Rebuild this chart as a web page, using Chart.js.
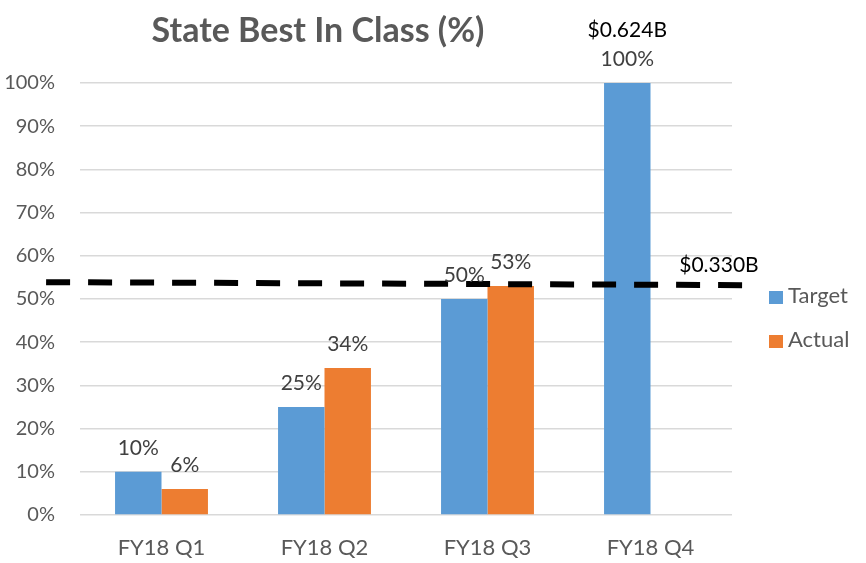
<!DOCTYPE html>
<html>
<head>
<meta charset="utf-8">
<script src="https://cdn.jsdelivr.net/npm/chart.js@4.4.1/dist/chart.umd.min.js"></script>
<style>
    html, body { margin: 0; padding: 0; background: #fff; }
    #wrap { position: relative; width: 866px; height: 563px; }
    #title {
        position: absolute; left: 118px; top: 8px; width: 400px; text-align: center;
        font: bold 34px Lato, "Open Sans", sans-serif; color: #595959;
    }
    #legend {
        position: absolute; left: 769px; top: 280px;
        font: 22px Lato, "Open Sans", sans-serif; color: #595959;
    }
    #legend div { height: 44px; line-height: 30px; white-space: nowrap; }
    #legend span {
        display: inline-block; width: 14px; height: 13px; margin-right: 5px; vertical-align: -1px;
    }
</style>
</head>
<body>
<div id="wrap">
    <canvas id="chart" width="866" height="563"></canvas>
    <div id="title">State Best In Class (%)</div>
    <div id="legend"></div>
</div>
<script>
// Veriler
const quarters = ['FY18 Q1', 'FY18 Q2', 'FY18 Q3', 'FY18 Q4'];
const targetValues = [10, 25, 50, 100];
const actualValues = [6, 34, 53, null];
const targetExtraLabels = ['', '', '', '$0.624B'];
const yTicks = [0, 10, 20, 30, 40, 50, 60, 70, 80, 90, 100];

// Kesikli eşik çizgisi: uçlarının değerleri (%) ve grafik alanı genişliğine göre konumu
const thresholdValues = [53.9, 53.2];
const thresholdSpan = [-0.052, 1.031];
const thresholdLabel = '$0.330B';
const thresholdLabelAt = [0.98, 57.9];

const font = 'Lato, "Open Sans", sans-serif';

const overlay = {
    id: 'overlay',
    afterDatasetsDraw(chart) {
        const ctx = chart.ctx;
        const area = chart.chartArea;
        const y = chart.scales.y;
        const fx = f => area.left + f * (area.right - area.left);

        // eşik çizgisi
        ctx.save();
        ctx.strokeStyle = '#000';
        ctx.lineWidth = 6;
        ctx.setLineDash([24, 18]);
        ctx.beginPath();
        ctx.moveTo(fx(thresholdSpan[0]), y.getPixelForValue(thresholdValues[0]));
        ctx.lineTo(fx(thresholdSpan[1]), y.getPixelForValue(thresholdValues[1]));
        ctx.stroke();
        ctx.restore();

        // çubuk etiketleri
        ctx.save();
        ctx.font = '21px ' + font;
        ctx.textAlign = 'center';
        ctx.textBaseline = 'bottom';
        [0, 1].forEach(di => {
            const meta = chart.getDatasetMeta(di);
            const values = chart.data.datasets[di].data;
            meta.data.forEach((bar, i) => {
                if (values[i] === null) return;
                ctx.fillStyle = '#404040';
                ctx.fillText(values[i] + '%', bar.x, bar.y - 13);
                if (di === 0 && targetExtraLabels[i]) {
                    ctx.fillStyle = '#000';
                    ctx.fillText(targetExtraLabels[i], bar.x, bar.y - 42);
                }
            });
        });
        ctx.fillStyle = '#000';
        ctx.textBaseline = 'middle';
        ctx.fillText(thresholdLabel, fx(thresholdLabelAt[0]), y.getPixelForValue(thresholdLabelAt[1]));
        ctx.restore();
    }
};

const chart = new Chart(document.getElementById('chart').getContext('2d'), {
    type: 'bar',
    data: {
        labels: quarters,
        datasets: [{
            label: 'Target',
            data: targetValues,
            backgroundColor: '#5B9BD5'
        }, {
            label: 'Actual',
            data: actualValues,
            backgroundColor: '#ED7D31'
        }]
    },
    options: {
        responsive: false,
        animation: false,
        datasets: { bar: { categoryPercentage: 0.57, barPercentage: 1.0 } },
        layout: { padding: { top: 83, left: 0, right: 134, bottom: 2 } },
        plugins: {
            title: { display: false },
            tooltip: { enabled: false },
            legend: { display: false }
        },
        scales: {
            x: {
                afterFit: axis => { axis.height = 46; },
                grid: { display: false, drawTicks: false },
                border: { display: false },
                ticks: {
                    font: { family: font, size: 22 },
                    color: '#595959',
                    padding: 20
                }
            },
            y: {
                min: 0,
                max: 100,
                afterBuildTicks: axis => { axis.ticks = yTicks.map(v => ({ value: v })); },
                afterFit: axis => { axis.width = 80; },
                grid: { color: '#d9d9d9', lineWidth: 1.5, drawTicks: false },
                border: { display: false },
                ticks: {
                    font: { family: font, size: 20 },
                    color: '#595959',
                    padding: 25,
                    callback: v => v + '%'
                }
            }
        }
    },
    plugins: [overlay]
});

// Lejant
document.getElementById('legend').innerHTML = chart.data.datasets
    .map(ds => `<div><span style="background:${ds.backgroundColor}"></span>${ds.label}</div>`)
    .join('');
</script>
</body>
</html>
